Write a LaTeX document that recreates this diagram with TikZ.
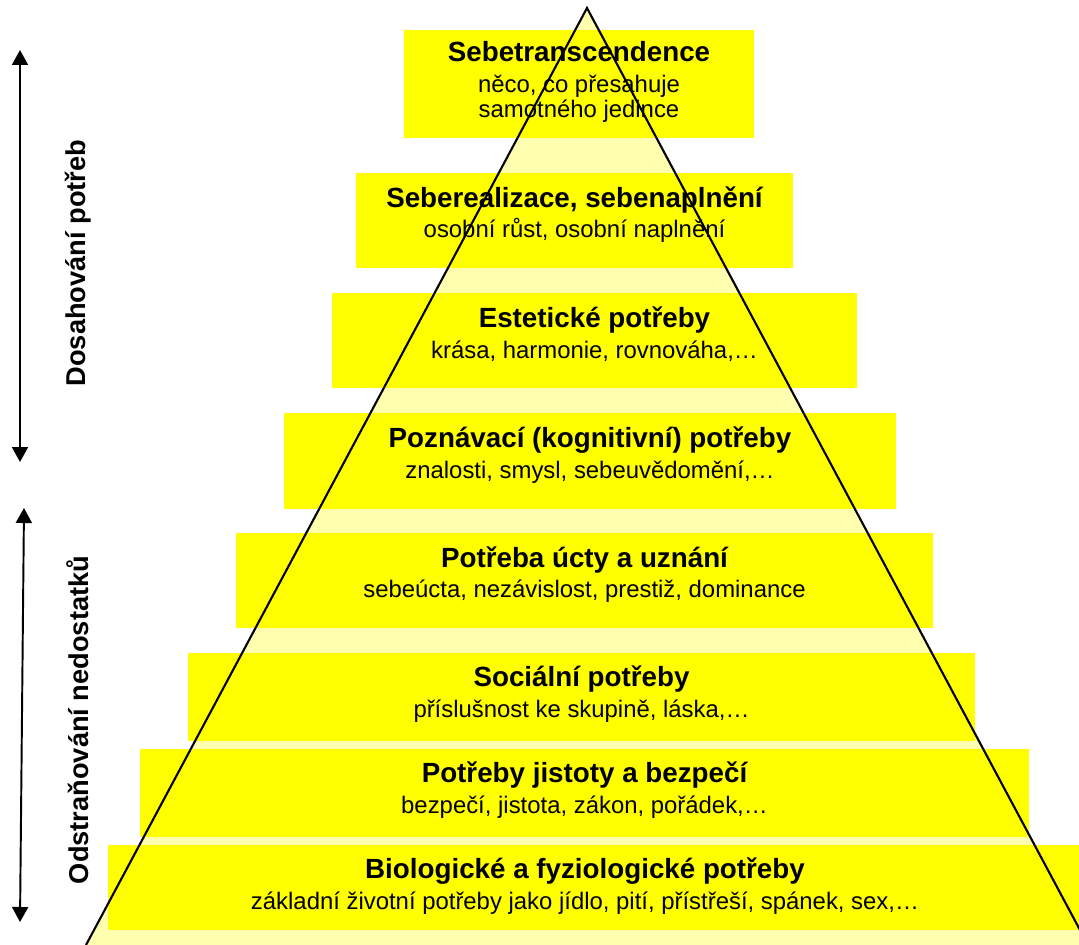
\documentclass[tikz,border=0pt]{standalone}
\usepackage{fontspec}
\setmainfont{Liberation Sans}
\usepackage{tikz}
\usetikzlibrary{arrows.meta,positioning,calc}
\definecolor{LvlY}{RGB}{255,255,0}
\definecolor{PaleY}{RGB}{255,255,175}
\newcommand{\lvltitle}[1]{{\fontsize{15.8}{17}\selectfont\bfseries #1}}
\tikzset{
  lvl/.style={fill=LvlY,inner sep=0pt,outer sep=0pt},
  lbl/.style={align=center,inner sep=0pt,
              font=\fontsize{13.6}{14.5}\selectfont},
  side/.style={rotate=90,inner sep=0pt,
               font=\fontsize{15.5}{17}\selectfont\bfseries},
  span/.style={{Triangle[length=3mm,width=3.2mm]}-{Triangle[length=3mm,width=3.2mm]},
               line width=1.1pt},
  pyr/.style={line width=1.2pt,black},
}

\begin{document}
\begin{tikzpicture}[x=0.02cm,y=-0.02cm]
  \clip (0,0) rectangle (1079,945);

  % pyramid
  \coordinate (apex) at (587,8);
  \coordinate (bl) at (86,945);
  \coordinate (br) at (1088,945);
  \fill[PaleY] (apex) -- (bl) -- (br) -- cycle;

  % levels
  \node[lvl,minimum width=7cm,   minimum height=2.16cm] (b1) at (579,84)    {};
  \node[lvl,minimum width=8.74cm,minimum height=1.9cm]  (b2) at (574.5,220.5) {};
  \node[lvl,minimum width=10.5cm,minimum height=1.9cm]  (b3) at (594.5,340.5) {};
  \node[lvl,minimum width=12.24cm,minimum height=1.92cm] (b4) at (590,461) {};
  \node[lvl,minimum width=13.94cm,minimum height=1.9cm] (b5) at (584.5,580.5) {};
  \node[lvl,minimum width=15.74cm,minimum height=1.76cm] (b6) at (581.5,697) {};
  \node[lvl,minimum width=17.78cm,minimum height=1.76cm] (b7) at (584.5,793) {};
  \node[lvl,minimum width=19.42cm,minimum height=1.7cm] (b8) at (593.5,887.5) {};

  \node[lbl] (t1) at ([yshift=1pt]b1) {\lvltitle{Sebetranscendence}\\[3pt]
    něco, co přesahuje\\samotného jedince};
  \node[lbl] (t2) at ([yshift=3.4pt]b2) {\lvltitle{Seberealizace, sebenaplnění}\\[3pt]
    osobní růst, osobní naplnění};
  \node[lbl] (t3) at ([yshift=3.4pt]b3) {\lvltitle{Estetické potřeby}\\[3pt]
    krása, harmonie, rovnováha,…};
  \node[lbl] (t4) at ([yshift=3.4pt]b4) {\lvltitle{Poznávací (kognitivní) potřeby}\\[3pt]
    znalosti, smysl, sebeuvědomění,…};
  \node[lbl] (t5) at ([yshift=3.4pt]b5) {\lvltitle{Potřeba úcty a uznání}\\[3pt]
    sebeúcta, nezávislost, prestiž, dominance};
  \node[lbl] (t6) at ([yshift=1.5pt]b6) {\lvltitle{Sociální potřeby}\\[3pt]
    příslušnost ke skupině, láska,…};
  \node[lbl] (t7) at ([yshift=1.5pt]b7) {\lvltitle{Potřeby jistoty a bezpečí}\\[3pt]
    bezpečí, jistota, zákon, pořádek,…};
  \node[lbl] (t8) at ([xshift=-0.17cm,yshift=1pt]b8) {\lvltitle{Biologické a fyziologické potřeby}\\[3pt]
    základní životní potřeby jako jídlo, pití, přístřeší, spánek, sex,…};

  \draw[pyr] (bl) -- (apex) -- (br);

  % side arrows
  \coordinate (a1t) at (20,50);
  \coordinate (a1b) at (20,462);
  \coordinate (a2t) at (24,508);
  \coordinate (a2b) at (20,922);
  \draw[span] (a1t) -- (a1b);
  \draw[span] (a2t) -- (a2b);
  \node[side] (dos) at (78,263) {Dosahování potřeb};
  \node[side] (odst) at (78,720) {Odstraňování nedostatků};
\end{tikzpicture}
\end{document}
